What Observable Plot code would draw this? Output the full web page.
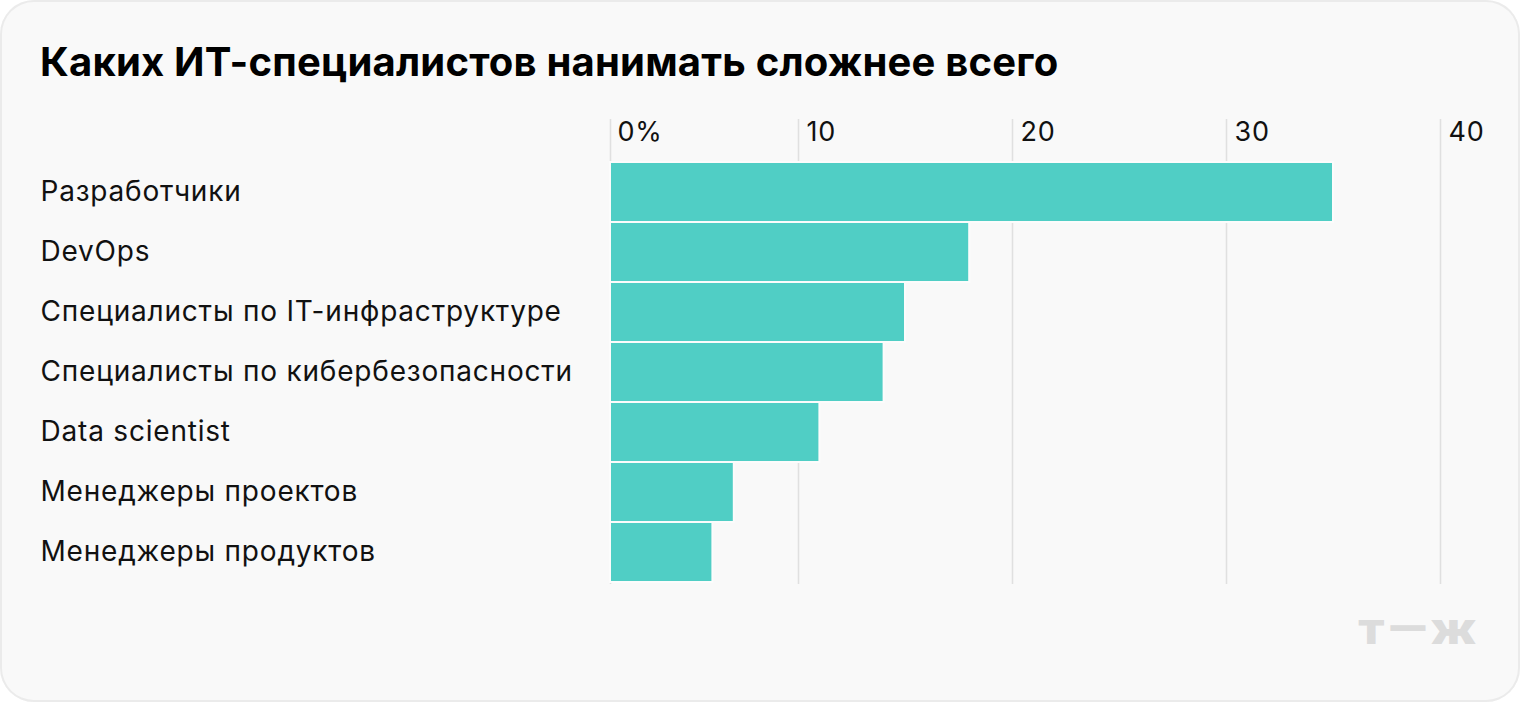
<!DOCTYPE html>
<html>
<head>
<meta charset="utf-8">
<script src="https://cdn.jsdelivr.net/npm/d3@7"></script>
<script src="https://cdn.jsdelivr.net/npm/@observablehq/plot@0.6"></script>
<style>
  html, body { margin: 0; padding: 0; background: #ffffff; }
  #card {
    position: absolute; left: 0; top: 0; width: 1520px; height: 702px;
    box-sizing: border-box; border-radius: 34px;
    box-shadow: inset 0 0 0 2px #ebebeb;
    background: #f9f9f9; overflow: hidden;
  }
  #title {
    position: absolute; left: 40px; top: 38px; margin: 0;
    font-family: Inter, Roboto, sans-serif; font-weight: 700;
    font-size: 40px; line-height: 48px; color: #000; letter-spacing: 0.2px;
  }
  #chart { position: absolute; left: 0; top: 100px; line-height: 0; }
  #chart svg { display: block; }
  #logo {
    position: absolute; left: 1358px; top: 603px;
    font-family: Roboto, sans-serif; font-weight: 900; font-size: 44px;
    color: #dcdcdc; letter-spacing: 3px;
    transform: scaleX(1.16); transform-origin: left center;
  }
</style>
</head>
<body>
<div id="card">
  <div id="title">Каких ИТ-специалистов нанимать сложнее всего</div>
  <div id="chart"></div>
  <div id="logo">т—ж</div>
</div>
<script>
const categories = [
  "Разработчики",
  "DevOps",
  "Специалисты по IT-инфраструктуре",
  "Специалисты по кибербезопасности",
  "Data scientist",
  "Менеджеры проектов",
  "Менеджеры продуктов"
];
const values = [35, 18, 15, 14, 11, 7, 6];
const tickValues = [0, 10, 20, 30, 40];
const tickLabels = ["0%", "10", "20", "30", "40"];

const data = categories.map((c, i) => ({category: c, value: values[i]}));
const ticks = tickValues.map((v, i) => ({v, label: tickLabels[i]}));
const zeroTick = ticks.filter(d => d.v === 0);
const otherTicks = ticks.filter(d => d.v !== 0);

const barColor = "#50cec5";
const gridColor = "#e0e0e0";
const baseShift = 26;

const chart = Plot.plot({
  width: 1520,
  height: 500,
  marginLeft: 584,
  marginRight: 80,
  marginTop: 61,
  marginBottom: 18,
  style: {fontFamily: "Inter, Roboto, sans-serif", fontSize: "28px", letterSpacing: "0.8px", background: "transparent", color: "#111"},
  x: {domain: [0, 40], axis: null},
  y: {domain: categories, padding: 0, label: null},
  marks: [
    Plot.ruleX(otherTicks, {x: "v", stroke: gridColor, strokeWidth: 1.5, insetTop: -42, insetBottom: -2}),
    Plot.ruleX(zeroTick, {x: "v", dx: baseShift, stroke: gridColor, strokeWidth: 1.5, insetTop: -42, insetBottom: -2}),
    Plot.barX(data, {x: "value", y: "category", fill: barColor, stroke: "#fcfcfc", strokeWidth: 2, insetLeft: baseShift}),
    Plot.text(otherTicks, {x: "v", text: "label", frameAnchor: "top", dy: -29, dx: 8, textAnchor: "start", lineAnchor: "middle", fontSize: 27, fill: "#111"}),
    Plot.text(zeroTick, {x: "v", text: "label", frameAnchor: "top", dy: -29, dx: baseShift + 7, textAnchor: "start", lineAnchor: "middle", fontSize: 27, fill: "#111"}),
    Plot.axisY({tickSize: 0, tickPadding: 0, textAnchor: "start", dx: -544, fontSize: 28, label: null, fill: "#111"})
  ]
});
document.getElementById("chart").appendChild(chart);
</script>
</body>
</html>
